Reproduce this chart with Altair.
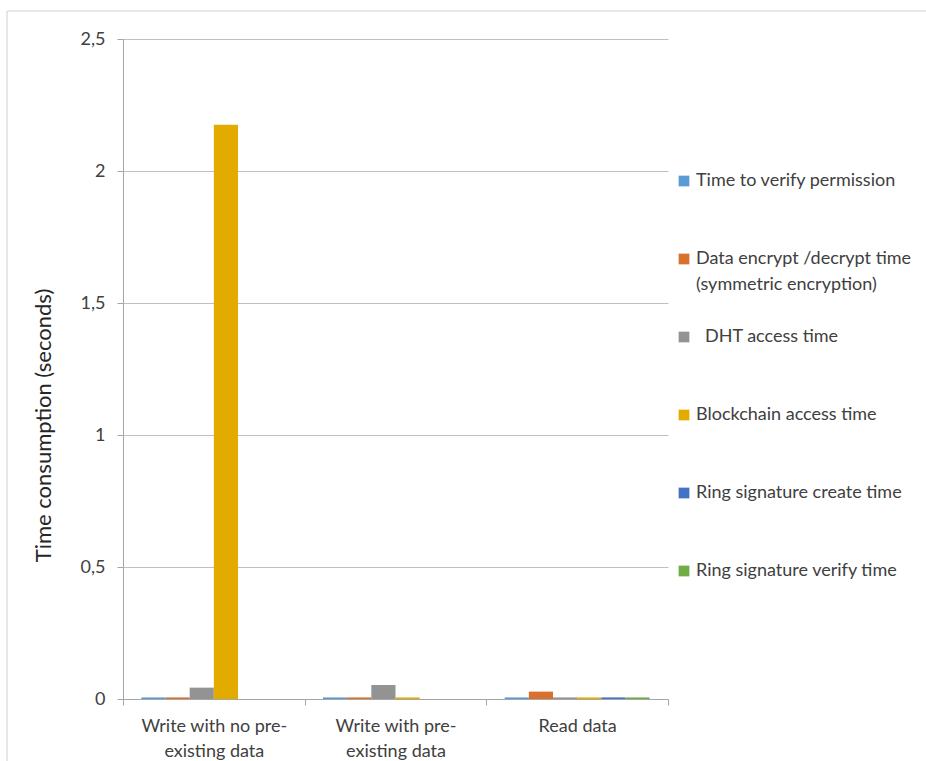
import altair as alt
import pandas as pd

groups = ["Write with no pre-|existing data", "Write with pre-|existing data", "Read data"]
series = [
    "Time to verify permission",
    "Data encrypt /decrypt time\n(symmetric encryption)",
    "DHT access time",
    "Blockchain access time",
    "Ring signature create time",
    "Ring signature verify time",
]
indented = ["DHT access time"]
colors = ["#5B9BD5", "#D8712E", "#939393", "#E3AB00", "#4472C4", "#70AD47"]

# values per group, in series order (None = no bar)
g1_values = [0.006, 0.006, 0.043, 2.175, None, None]
g2_values = [0.006, 0.006, 0.053, 0.006, None, None]
g3_values = [0.006, 0.028, 0.006, 0.006, 0.006, 0.006]

rows = []
for g, vals in zip(groups, [g1_values, g2_values, g3_values]):
    for s, v in zip(series, vals):
        if v is not None:
            rows.append({"group": g, "series": s, "value": v})
df = pd.DataFrame(rows)
leg = pd.DataFrame({"series": series, "indent": [s in indented for s in series]})

FONT = "Lato"
TXT = "#404040"
color_scale = alt.Scale(domain=series, range=colors)

bars = alt.Chart(df).mark_bar().encode(
    x=alt.X(
        "group:N",
        sort=groups,
        scale=alt.Scale(domain=groups, paddingInner=0, paddingOuter=0),
        axis=alt.Axis(
            title=None,
            labelAngle=0,
            labelExpr="split(datum.label, '|')",
            labelLineHeight=25,
            labelPadding=12,
            tickBand="extent",
            tickSize=6,
            tickColor="#A6A6A6",
            domainColor="#A6A6A6",
            labelFontSize=18,
            labelFont=FONT,
            labelColor=TXT,
            grid=False,
        ),
    ),
    xOffset=alt.XOffset("series:N", sort=series,
                        scale=alt.Scale(domain=series, paddingInner=0, paddingOuter=0.76)),
    y=alt.Y(
        "value:Q",
        scale=alt.Scale(domain=[0, 2.5], nice=False),
        axis=alt.Axis(
            title="Time consumption (seconds)",
            values=[0, 0.5, 1, 1.5, 2, 2.5],
            labelExpr="replace(format(datum.value, '~g'), '.', ',')",
            labelFontSize=18,
            labelFont=FONT,
            labelColor=TXT,
            labelPadding=12,
            tickSize=6,
            tickColor="#A6A6A6",
            domainColor="#A6A6A6",
            gridColor="#BFBFBF",
            titleFont=FONT,
            titleFontSize=22,
            titleFontWeight="normal",
            titleColor="#262626",
            titleX=-73,
            titleY=386,
            titleBaseline="alphabetic",
        ),
    ),
    color=alt.Color("series:N", scale=color_scale, legend=None),
)

leg_y = alt.Y("series:N", sort=series,
              scale=alt.Scale(domain=series, range=[142, 532], padding=0), axis=None)

leg_sq = alt.Chart(leg).mark_square(size=115, opacity=1).encode(
    x=alt.value(561),
    y=leg_y,
    color=alt.Color("series:N", scale=color_scale, legend=None),
)

txt_props = dict(align="left", baseline="top", dy=-9, lineBreak="\n", lineHeight=26,
                 fontSize=18, font=FONT, color=TXT)

leg_txt = alt.Chart(leg).transform_filter("!datum.indent").mark_text(**txt_props).encode(
    x=alt.value(573),
    y=leg_y,
    text="series:N",
)
leg_txt_ind = alt.Chart(leg).transform_filter("datum.indent").mark_text(**txt_props).encode(
    x=alt.value(582),
    y=leg_y,
    text="series:N",
)

frame_df = pd.DataFrame({"a": [0]})
frame_left = alt.Chart(frame_df).mark_rule(color="#D0D0D0", strokeWidth=1).encode(
    x=alt.value(-116), y=alt.value(-28), y2=alt.value(722)
)
frame_top = alt.Chart(frame_df).mark_rule(color="#D0D0D0", strokeWidth=1).encode(
    x=alt.value(-116), x2=alt.value(803), y=alt.value(-28)
)

chart = alt.layer(frame_left, frame_top, bars, leg_sq, leg_txt, leg_txt_ind).resolve_scale(
    y="independent"
).properties(
    width=545,
    height=660,
    autosize=alt.AutoSizeParams(type="none"),
    padding={"left": 123, "top": 39, "right": 258, "bottom": 62},
    background="white",
).configure_view(stroke=None)

chart.save("out.html", embed_options={"renderer": "svg", "actions": False})
